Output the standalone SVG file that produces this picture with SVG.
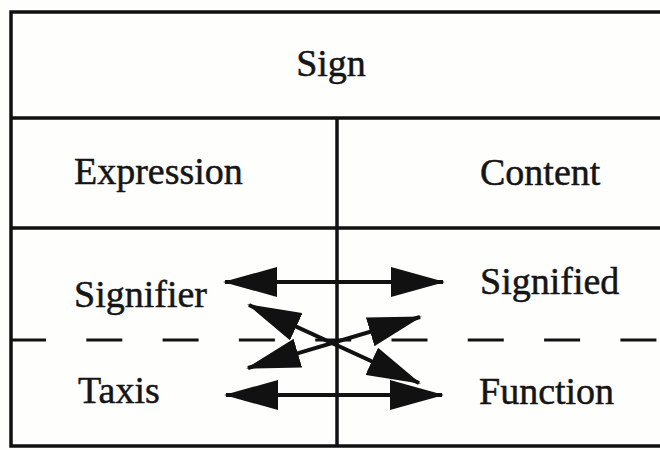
<svg xmlns="http://www.w3.org/2000/svg" width="660" height="450" viewBox="0 0 660 450">
  <style>
    .rule { stroke: #111; stroke-width: 3.5; fill: none; }
    .dash { stroke: #111; stroke-width: 3; stroke-dasharray: 36 40.3; fill: none; }
    .conn { stroke: #111; stroke-width: 4; fill: none; marker-start: url(#head); marker-end: url(#head); }
    text { font-family: "Liberation Serif", "Times New Roman", serif; font-size: 38px; fill: #151515; stroke: #151515; stroke-width: 0.5; }
  </style>
  <defs>
    <marker id="head" viewBox="0 0 54 30" refX="52" refY="15" markerWidth="54" markerHeight="30" markerUnits="userSpaceOnUse" orient="auto-start-reverse">
      <path d="M0,0 L54,15 L0,30 Z" fill="#111"/>
    </marker>
  </defs>
  <rect x="0" y="0" width="660" height="450" fill="#fefefd"/>

  <g id="frame">
    <path class="rule" d="M662,12 L11,12 L11,446 L662,446"/>
    <line class="rule" x1="11" y1="118" x2="662" y2="118"/>
    <line class="rule" x1="11" y1="228" x2="662" y2="228"/>
    <line class="rule" x1="337" y1="118" x2="337" y2="446"/>
    <line class="dash" x1="10" y1="340" x2="662" y2="340"/>
  </g>

  <g id="sign"><text x="331" y="76" text-anchor="middle">Sign</text></g>
  <g id="expression"><text x="74" y="184">Expression</text></g>
  <g id="content"><text x="480" y="185">Content</text></g>
  <g id="signifier"><text x="74" y="307">Signifier</text></g>
  <g id="signified"><text x="480" y="294">Signified</text></g>
  <g id="taxis"><text x="78" y="403">Taxis</text></g>
  <g id="function"><text x="479" y="404">Function</text></g>

  <g id="connectors">
    <line class="conn" x1="225" y1="282" x2="443" y2="282"/>
    <line class="conn" x1="226" y1="395" x2="442" y2="395"/>
    <line class="conn" x1="249" y1="305" x2="419" y2="383"/>
    <line class="conn" x1="248" y1="368" x2="420" y2="317"/>
  </g>
</svg>
